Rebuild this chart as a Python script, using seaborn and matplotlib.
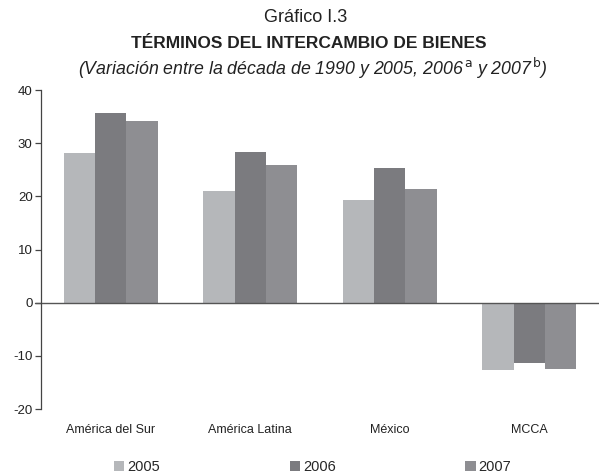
import matplotlib
matplotlib.use("Agg")
import matplotlib.pyplot as plt
import seaborn as sns
import pandas as pd

categories = ["América del Sur", "América Latina", "México", "MCCA"]
years = ["2005", "2006", "2007"]
v2005 = [28.2, 21.1, 19.4, -12.6]
v2006 = [35.7, 28.3, 25.3, -11.3]
v2007 = [34.2, 25.9, 21.4, -12.5]
colors = ["#b5b7ba", "#7b7b7f", "#8e8e92"]

rows = []
for yr, vals in zip(years, [v2005, v2006, v2007]):
    for c, v in zip(categories, vals):
        rows.append({"region": c, "year": yr, "value": v})
df = pd.DataFrame(rows)

sns.set_style("white")
plt.rcParams["font.family"] = ["Liberation Sans", "DejaVu Sans"]
plt.rcParams["axes.unicode_minus"] = False

fig = plt.figure(figsize=(5.99, 4.74), dpi=100)
ax = fig.add_axes([0.0684, 0.137, 0.9316, 0.673])

sns.barplot(data=df, x="region", y="value", hue="year", order=categories,
            hue_order=years, palette=colors, width=0.675, saturation=1,
            edgecolor="none", linewidth=0, ax=ax)

ax.set_xlim(-0.5, 3.5)
ax.set_ylim(-20, 40)
ax.set_yticks([-20, -10, 0, 10, 20, 30, 40])
ax.axhline(0, color="#555555", lw=1.0, xmin=-0.01, clip_on=False)
for s in ["top", "right", "bottom"]:
    ax.spines[s].set_visible(False)
ax.spines["left"].set_color("#444444")
ax.spines["left"].set_linewidth(0.9)
ax.tick_params(axis="y", direction="out", length=4, width=0.9, color="#444444",
               labelsize=9.5, labelcolor="#222222", pad=2, left=True)
ax.tick_params(axis="x", length=0, labelsize=9, labelcolor="#222222", pad=11)
ax.set_xlabel("")
ax.set_ylabel("")

leg = ax.get_legend()
if leg is not None:
    leg.remove()
handles, labels = ax.get_legend_handles_labels()
fig.legend(handles, labels, loc="center", bbox_to_anchor=(0.522, 0.015), ncol=3,
           frameon=False, fontsize=10.5, handlelength=0.7, handleheight=0.7,
           handletextpad=0.2, columnspacing=8.9)

fig.text(0.51, 1 - 18 / 474, "Gráfico I.3", ha="center", va="center", fontsize=13.1, color="#222222")
fig.text(0.515, 1 - 43 / 474, "TÉRMINOS DEL INTERCAMBIO DE BIENES", ha="center", va="center",
         fontsize=12.5, fontweight="bold", color="#222222")
fig.text(0.522, 1 - 68 / 474,
         r"(Variación entre la década de 1990 y 2005, 2006$^{\,\mathrm{a}}$ y 2007$^{\,\mathrm{b}}$)",
         ha="center", va="center", fontsize=12.8, style="italic", color="#222222")

fig.savefig("out.png", dpi=100)
